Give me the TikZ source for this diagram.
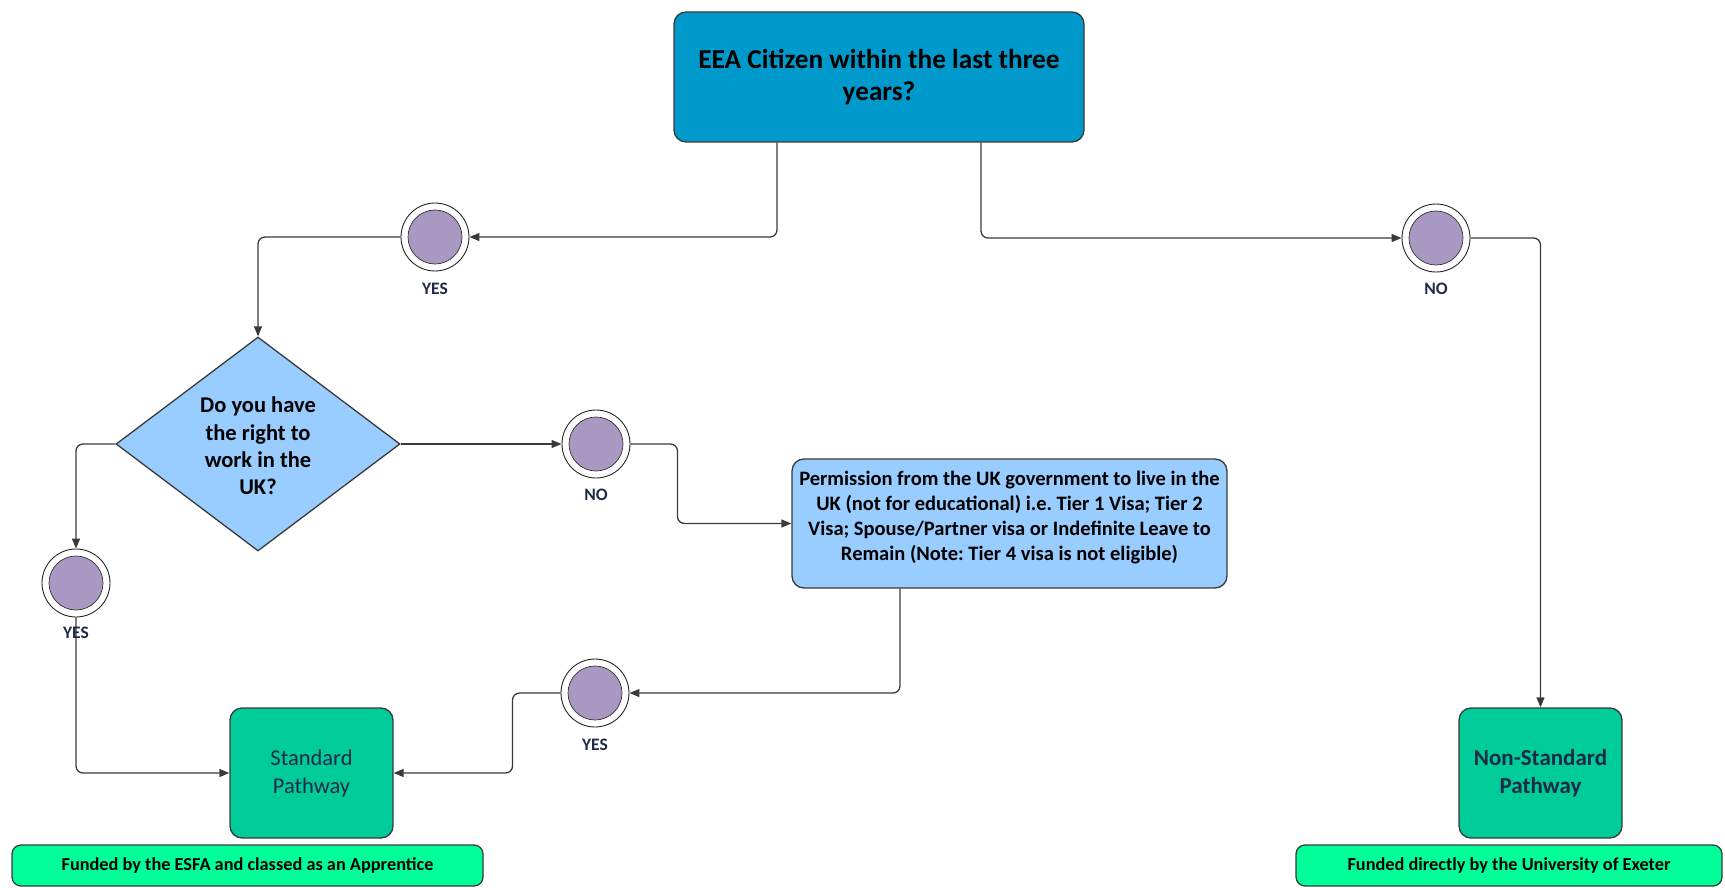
\documentclass[tikz,border=0pt]{standalone}
\usepackage{fontspec}
\setmainfont{Carlito}
\usetikzlibrary{shapes.geometric,arrows.meta,calc}
\definecolor{topblue}{HTML}{0099CC}
\definecolor{lightblue}{HTML}{99CCFF}
\definecolor{evpurple}{HTML}{A898C2}
\definecolor{pathgreen}{HTML}{00CC99}
\definecolor{fundgreen}{HTML}{00FF99}
\definecolor{linegray}{HTML}{3A3A3A}
\definecolor{navytext}{HTML}{1C2A48}
\frenchspacing
\begin{document}
\begin{tikzpicture}[x=1pt,y=-1pt,
  box/.style={draw=linegray, line width=1.3pt, rounded corners=12pt, align=center, inner sep=0pt},
  evt/.style={circle, draw=black!85, line width=0.9pt, fill=white, minimum size=68pt, inner sep=0pt,
    path picture={\filldraw[fill=evpurple, draw=black!80, line width=0.7pt] (path picture bounding box.center) circle (27pt);}},
  lbl/.style={font=\fontsize{17.5}{20}\selectfont\bfseries, text=navytext, inner sep=1pt},
  conn/.style={draw=linegray, line width=1.3pt, rounded corners=7pt, -{Triangle[length=10pt,width=8pt]}}
]
\useasboundingbox (0,0) rectangle (1725,888);

% nodes
\node[box, fill=topblue, minimum width=410pt, minimum height=130pt,
  font=\fontsize{27.3}{32}\selectfont\bfseries] (top) at (879,77)
  {EEA Citizen within the last three\\years?};

\node[evt] (yes1) at (435,237) {};
\node[lbl] (yes1l) at (435,289) {YES};
\node[evt] (no1) at (1436,238) {};
\node[lbl] (no1l) at (1436,289) {NO};

\node[diamond, draw=linegray, line width=1.3pt, fill=lightblue, aspect=1.33,
  minimum width=284pt, minimum height=214pt, inner sep=0pt] (q2) at (258,444) {};
\node[font=\fontsize{22.5}{27.3}\selectfont\bfseries, align=center, inner sep=0pt] (q2t) at (258,446)
  {Do you have\\the right to\\work in the\\UK?};

\node[evt] (no2) at (596,444) {};
\node[lbl] (no2l) at (596,495) {NO};

\node[box, fill=lightblue, minimum width=435pt, minimum height=129pt] (perm) at (1009.5,523.5) {};
\node[font=\fontsize{20.5}{25}\selectfont\bfseries, align=center, inner sep=0pt] (permt) at (1009.5,518)
  {Permission from the UK government to live in the\\
   UK (not for educational) i.e. Tier 1 Visa; Tier 2\\
   Visa; Spouse/Partner visa or Indefinite Leave to\\
   Remain (Note: Tier 4 visa is not eligible)};

\node[evt] (yes2) at (76,583) {};
\node[evt] (yes3) at (595,693) {};
\node[lbl] (yes3l) at (595,745) {YES};

\node[box, fill=pathgreen, minimum width=163pt, minimum height=130pt,
  font=\fontsize{22.5}{28}\selectfont, text=navytext] (std) at (311.5,773)
  {Standard\\Pathway};
\node[box, fill=pathgreen, minimum width=163pt, minimum height=130pt,
  font=\fontsize{23}{28}\selectfont\bfseries, text=navytext] (nstd) at (1540.5,773)
  {Non-Standard\\Pathway};

\node[box, fill=fundgreen, rounded corners=9pt, minimum width=471pt, minimum height=41pt,
  font=\fontsize{18.3}{21}\selectfont\bfseries] (fund1) at (247.5,865.5)
  {Funded by the ESFA and classed as an Apprentice};
\node[box, fill=fundgreen, rounded corners=9pt, minimum width=426pt, minimum height=41pt,
  font=\fontsize{18.3}{21}\selectfont\bfseries] (fund2) at (1509,865.5)
  {Funded directly by the University of Exeter};

% connectors
\draw[conn] ($(top.south)+(-102,0)$) |- (yes1.east);
\draw[conn] (yes1.west) -| (q2.north);
\draw[conn] ($(top.south)+(102,0)$) |- (no1.west);
\draw[conn] (no1.east) -| (nstd.north);
\draw[conn] (q2.west) -| (yes2.north);
\draw[conn] (yes2.south) |- (std.west);
\draw[conn] (q2.east) -- (no2.west);
\draw[conn] (no2.east) -- ++(47,0) |- (perm.west);
\draw[conn] ($(perm.south)+(-109.5,0)$) |- (yes3.east);
\draw[conn] (yes3.west) -- ++(-48,0) |- (std.east);

\node[lbl] (yes2l) at (76,633) {YES};
\end{tikzpicture}
\end{document}
